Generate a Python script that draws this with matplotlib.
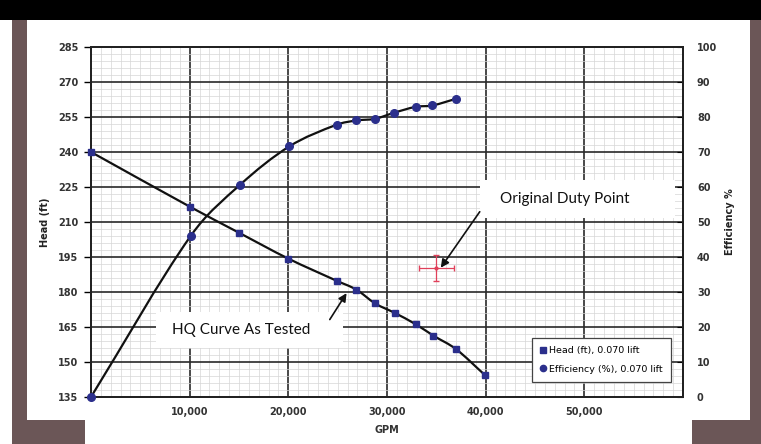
import matplotlib
matplotlib.use("Agg")
import matplotlib.pyplot as plt
from matplotlib.path import Path
from matplotlib.patches import PathPatch, Rectangle
from matplotlib.ticker import FuncFormatter, MultipleLocator
from matplotlib.lines import Line2D

# ---------------- data ----------------
head_gpm = [0, 10000, 15000, 20000, 24900, 26900, 28800, 30800, 32900, 34700, 37000, 39900]
head_ft = [240, 216.6, 205.4, 194.3, 184.8, 181.0, 175.1, 171.0, 166.2, 161.3, 155.5, 144.5]

eff_gpm = [0, 10100, 15100, 20100, 24900, 26900, 28800, 30700, 32900, 34600, 37000]
eff_pct = [0, 46.0, 60.6, 71.6, 77.8, 79.0, 79.5, 81.2, 82.9, 83.3, 85.2]

duty_gpm = [35000]
duty_head = [190.2]
duty_xerr = [1750]
duty_yerr = [5.5]

x_tick_vals = [10000, 20000, 30000, 40000, 50000]
head_ticks = list(range(135, 286, 15))
eff_ticks = list(range(0, 101, 10))

navy = "#2b2f8c"


def smooth_path(xs, ys):
    """Cubic Hermite (Bezier) path through the points, tangents from neighbours."""
    n = len(xs)
    m = []
    for i in range(n):
        if i == 0:
            m.append((ys[1] - ys[0]) / (xs[1] - xs[0]))
        elif i == n - 1:
            m.append((ys[-1] - ys[-2]) / (xs[-1] - xs[-2]))
        else:
            m.append((ys[i + 1] - ys[i - 1]) / (xs[i + 1] - xs[i - 1]))
    verts = [(xs[0], ys[0])]
    codes = [Path.MOVETO]
    for i in range(n - 1):
        h = xs[i + 1] - xs[i]
        c1 = (xs[i] + h / 3.0, ys[i] + m[i] * h / 3.0)
        c2 = (xs[i + 1] - h / 3.0, ys[i + 1] - m[i + 1] * h / 3.0)
        verts += [c1, c2, (xs[i + 1], ys[i + 1])]
        codes += [Path.CURVE4] * 3
    return Path(verts, codes)


fig = plt.figure(figsize=(7.61, 4.44), dpi=100)
fig.patch.set_facecolor("white")

# frame decorations
brown = "#6b5657"
fig.patches.append(Rectangle((0, 1 - 20 / 444), 1, 20 / 444, transform=fig.transFigure,
                             facecolor="black", edgecolor="none", zorder=0))
fig.patches.append(Rectangle((12 / 761, 0), 15 / 761, 1 - 20 / 444, transform=fig.transFigure,
                             facecolor=brown, edgecolor="none", zorder=0))
fig.patches.append(Rectangle((12 / 761, 0), 73 / 761, 24 / 444, transform=fig.transFigure,
                             facecolor=brown, edgecolor="none", zorder=0))
fig.patches.append(Rectangle((750 / 761, 0), 11 / 761, 1 - 20 / 444, transform=fig.transFigure,
                             facecolor=brown, edgecolor="none", zorder=0))
fig.patches.append(Rectangle((692 / 761, 0), 69 / 761, 24 / 444, transform=fig.transFigure,
                             facecolor=brown, edgecolor="none", zorder=0))

ax = fig.add_axes([91 / 761, 47 / 444, 592 / 761, 350 / 444])
ax.set_facecolor("white")
ax.set_xlim(0, 60000)
ax.set_ylim(135, 285)

# grid
ax.xaxis.set_major_locator(MultipleLocator(10000))
ax.xaxis.set_minor_locator(MultipleLocator(1000))
ax.yaxis.set_major_locator(MultipleLocator(15))
ax.yaxis.set_minor_locator(MultipleLocator(3))
ax.grid(which="minor", color="#d6d6d6", linewidth=0.5)
ax.grid(which="major", color="#2a2a2a", linewidth=1.2)
ax.set_axisbelow(True)

ax.set_xticks(x_tick_vals)
ax.xaxis.set_major_formatter(FuncFormatter(lambda v, p: f"{int(v):,}"))
ax.set_yticks(head_ticks)
ax.tick_params(axis="x", which="both", length=0, pad=7, labelsize=7, labelcolor="#333333")
ax.tick_params(axis="y", which="major", length=5, width=1, direction="out", pad=4,
               labelsize=7, labelcolor="#333333")
ax.tick_params(axis="y", which="minor", length=0)
for lbl in ax.get_xticklabels() + ax.get_yticklabels():
    lbl.set_fontweight("bold")
for s in ax.spines.values():
    s.set_color("#222222")
    s.set_linewidth(1.4)

ax.set_xlabel("GPM", fontsize=7, fontweight="bold", color="#333333", labelpad=6)
ax.set_ylabel("Head (ft)", fontsize=7, fontweight="bold", color="#222222", labelpad=6)

ax2 = ax.twinx()
ax2.set_ylim(0, 100)
ax2.set_yticks(eff_ticks)
ax2.tick_params(axis="y", length=4, direction="in", pad=10, labelsize=7, labelcolor="#333333")
for lbl in ax2.get_yticklabels():
    lbl.set_fontweight("bold")
for s in ax2.spines.values():
    s.set_color("#222222")
    s.set_linewidth(1.4)
ax2.set_ylabel("Efficiency %", fontsize=7, fontweight="bold", color="#222222",
               rotation=90, labelpad=6)

# white boxes behind annotation texts (cover gridlines)
ax2.add_patch(Rectangle((39400, 211.8), 19800, 16.3, transform=ax.transData,
                        facecolor="white", edgecolor="none", zorder=1))
ax2.add_patch(Rectangle((6600, 156.0), 18900, 15.4, transform=ax.transData,
                        facecolor="white", edgecolor="none", zorder=1))

# curves
ax2.add_patch(PathPatch(smooth_path(head_gpm, head_ft), transform=ax.transData,
                        fill=False, edgecolor="#111111", linewidth=1.6, zorder=3))
ax2.add_patch(PathPatch(smooth_path(eff_gpm, eff_pct), transform=ax2.transData,
                        fill=False, edgecolor="#111111", linewidth=1.6, zorder=3))
ax2.plot(head_gpm, head_ft, linestyle="none", marker="s", markersize=5,
         color=navy, transform=ax.transData, zorder=4, clip_on=False)
ax2.plot(eff_gpm, eff_pct, linestyle="none", marker="o", markersize=5.5,
         color=navy, zorder=4, clip_on=False)

# duty point
ax2.errorbar(duty_gpm, duty_head, xerr=duty_xerr, yerr=duty_yerr, fmt="o", markersize=2,
             color="#e0405a", ecolor="#e0405a", elinewidth=0.9, capsize=2.5,
             transform=ax.transData, zorder=5)

# annotations
ax2.text(48000, 219.8, "Original Duty Point", transform=ax.transData,
         fontsize=11, family="Lato", ha="center", va="center", color="#111111", zorder=6)
ax2.annotate("", xy=(35450, 190.4), xycoords=ax.transData,
             xytext=(39400, 214.4), textcoords=ax.transData,
             arrowprops=dict(arrowstyle="-|>", color="#111111", lw=1.2,
                             mutation_scale=12, shrinkA=0, shrinkB=0), zorder=6)
ax2.text(15200, 163.6, "HQ Curve As Tested", transform=ax.transData, fontsize=11,
         family="Lato", ha="center", va="center", color="#111111", zorder=6)
ax2.annotate("", xy=(25900, 179.5), xycoords=ax.transData,
             xytext=(24200, 168.2), textcoords=ax.transData,
             arrowprops=dict(arrowstyle="-|>", color="#111111", lw=1.2,
                             mutation_scale=12, shrinkA=0, shrinkB=0), zorder=6)

# legend
handles = [Line2D([], [], linestyle="none", marker="s", markersize=4.5, color=navy),
           Line2D([], [], linestyle="none", marker="o", markersize=4.5, color=navy)]
leg = ax2.legend(handles, ["Head (ft), 0.070 lift", "Efficiency (%), 0.070 lift"],
                 loc="lower right", bbox_to_anchor=(0.985, 0.034), fontsize=6.8,
                 frameon=True, fancybox=False, edgecolor="#444444", framealpha=1,
                 handlelength=0.6, handletextpad=0.35, borderpad=0.9, labelspacing=1.0,
                 borderaxespad=0.3)
leg.get_frame().set_linewidth(0.9)
leg.set_zorder(7)

fig.savefig("out.png", dpi=100)
